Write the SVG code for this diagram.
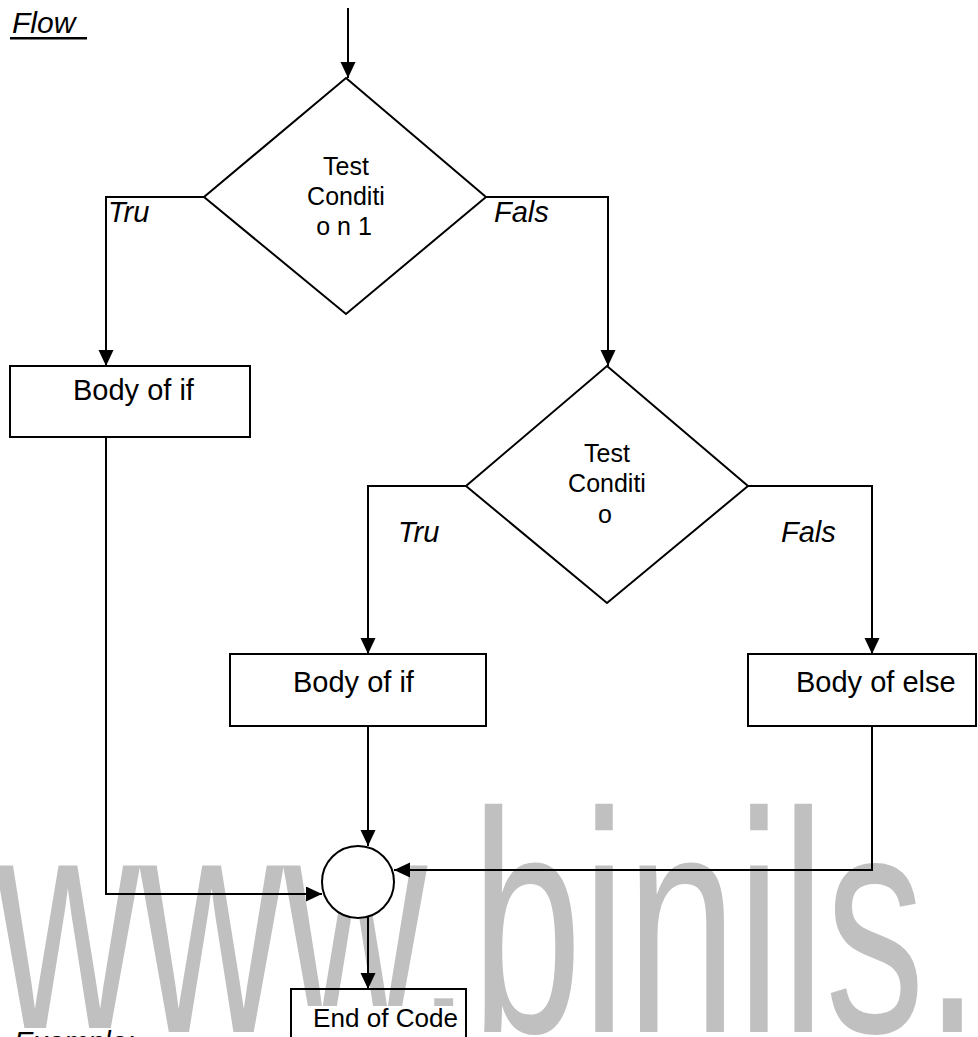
<svg xmlns="http://www.w3.org/2000/svg" width="978" height="1037" viewBox="0 0 978 1037">
<style>
.shape{fill:#fff;stroke:#000;stroke-width:2}
.conn{fill:none;stroke:#000;stroke-width:2}
.t{font-family:"Liberation Sans",Arial,sans-serif;fill:#000}
.d{font-size:25px;text-anchor:middle}
.b{font-size:29px}
.lbl{font-size:29px;font-style:italic}
.wm{font-family:"Liberation Sans",Arial,sans-serif;font-size:315px;fill:#c0c0c0}
</style>
<defs>
<marker id="ah" markerUnits="userSpaceOnUse" markerWidth="16" markerHeight="16" refX="16" refY="7.5" orient="auto">
<path d="M0,0 L16,7.5 L0,15 z" fill="#000"/>
</marker>
</defs>
<rect width="978" height="1037" fill="#fff"/>
<text class="wm" x="-4" y="1032" textLength="984" lengthAdjust="spacingAndGlyphs">www.binils.</text>
<g id="title">
<text class="t lbl" x="12" y="33" style="font-size:30px">Flow</text>
<rect x="10" y="37" width="77" height="2.5" fill="#000"/>
</g>
<g id="connectors">
<path class="conn" d="M348,8 V78" marker-end="url(#ah)"/>
<path class="conn" d="M204,197 H106 V366" marker-end="url(#ah)"/>
<path class="conn" d="M486,197 H608 V366" marker-end="url(#ah)"/>
<path class="conn" d="M466,486 H368 V654" marker-end="url(#ah)"/>
<path class="conn" d="M748,486 H872 V654" marker-end="url(#ah)"/>
<path class="conn" d="M106,437 V894 H322" marker-end="url(#ah)"/>
<path class="conn" d="M368,726 V846" marker-end="url(#ah)"/>
<path class="conn" d="M872,726 V870 H394" marker-end="url(#ah)"/>
<path class="conn" d="M368,917 V989" marker-end="url(#ah)"/>
</g>
<g id="cond1">
<polygon class="shape" points="346,78 486,197 346,314 204,197"/>
<text class="t d" x="346" y="175">Test</text>
<text class="t d" x="346" y="205">Conditi</text>
<text class="t d" x="344" y="235">o n 1</text>
</g>
<g id="label-true1"><text class="t lbl" x="108" y="222">Tru</text></g>
<g id="label-false1"><text class="t lbl" x="494" y="222">Fals</text></g>
<g id="body-if1">
<rect class="shape" x="10" y="366" width="240" height="71"/>
<text class="t b" x="73" y="400">Body of if</text>
</g>
<g id="cond2">
<polygon class="shape" points="607,366 748,486 607,603 466,486"/>
<text class="t d" x="607" y="462">Test</text>
<text class="t d" x="607" y="492">Conditi</text>
<text class="t d" x="605" y="523">o</text>
</g>
<g id="label-true2"><text class="t lbl" x="398" y="542">Tru</text></g>
<g id="label-false2"><text class="t lbl" x="781" y="542">Fals</text></g>
<g id="body-if2">
<rect class="shape" x="230" y="654" width="256" height="72"/>
<text class="t b" x="293" y="692">Body of if</text>
</g>
<g id="body-else">
<rect class="shape" x="748" y="654" width="228" height="72"/>
<text class="t b" x="796" y="692">Body of else</text>
</g>
<g id="join">
<circle class="shape" cx="358" cy="882" r="36"/>
</g>
<g id="end">
<rect class="shape" x="291" y="989" width="175" height="60" style="fill:none"/>
<rect x="294" y="1006" width="169" height="27" fill="#fff"/>
<text class="t" x="313" y="1027" font-size="25" textLength="145" lengthAdjust="spacingAndGlyphs">End of Code</text>
</g>
<g id="example">
<rect x="12" y="1028" width="135" height="9" fill="#fff"/>
<text class="t lbl" x="14" y="1052">Example:</text>
</g>
</svg>
